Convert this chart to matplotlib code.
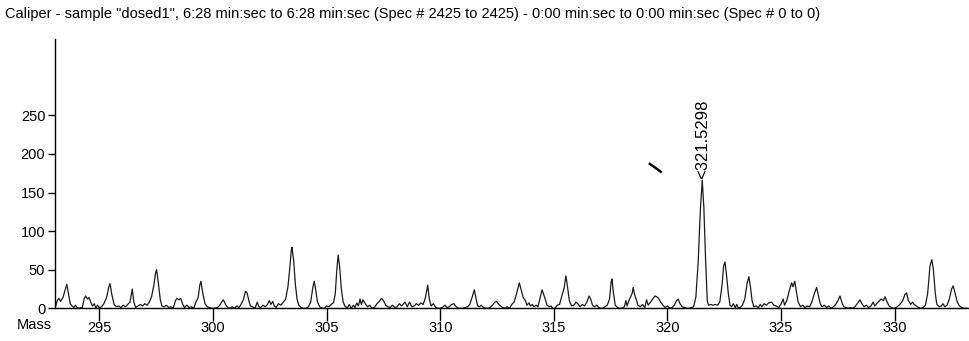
import numpy as np
import matplotlib
matplotlib.use('Agg')
import matplotlib.pyplot as plt

plt.rcParams['font.family'] = ['Liberation Sans', 'DejaVu Sans']

title = ('Caliper - sample "dosed1", 6:28 min:sec to 6:28 min:sec (Spec # 2425 to 2425)'
         ' - 0:00 min:sec to 0:00 min:sec (Spec # 0 to 0)')

# profile vertices, one line of mass per line of intensity
mass = [
    293.07, 293.15, 293.22, 293.3, 293.4, 293.5, 293.57, 293.65, 293.72, 293.8, 293.88, 293.95, 294.02, 294.1,
    294.25, 294.33, 294.4, 294.48, 294.55, 294.62, 294.7, 294.78, 294.85, 294.92, 295.0, 295.1, 295.2,
    295.32, 295.42, 295.47, 295.55, 295.65, 295.75, 295.85, 295.95, 296.05, 296.15, 296.25, 296.35,
    296.45, 296.52, 296.6, 296.7, 296.8, 296.9, 297.0, 297.1, 297.2, 297.3, 297.4, 297.47, 297.52,
    297.6, 297.68, 297.75, 297.85, 297.95, 298.05, 298.15, 298.25, 298.35, 298.42, 298.5, 298.58,
    298.66, 298.75, 298.85, 298.95, 299.05, 299.15, 299.25, 299.35, 299.42, 299.47, 299.55, 299.65,
    299.75, 299.85, 299.95, 300.05, 300.2, 300.3, 300.4, 300.46, 300.55, 300.65, 300.75, 300.85,
    300.95, 301.05, 301.15, 301.25, 301.35, 301.43, 301.5, 301.58, 301.65, 301.75, 301.85, 301.95,
    302.02, 302.1, 302.2, 302.3, 302.4, 302.48, 302.55, 302.63, 302.7, 302.78, 302.88, 302.98,
    303.1, 303.2, 303.3, 303.38, 303.45, 303.48, 303.55, 303.63, 303.7, 303.78, 303.88, 303.98,
    304.1, 304.2, 304.3, 304.4, 304.46, 304.53, 304.6, 304.7, 304.8, 304.9, 305.0, 305.1, 305.2,
    305.3, 305.38, 305.45, 305.51, 305.57, 305.65, 305.73, 305.82, 305.92, 306.0, 306.08, 306.18,
    306.25, 306.33, 306.4, 306.47, 306.53, 306.6, 306.7, 306.8, 306.9, 307.0, 307.1, 307.22, 307.32,
    307.42, 307.5, 307.6, 307.7, 307.8, 307.9, 308.0, 308.1, 308.2, 308.3, 308.45, 308.55, 308.65,
    308.75, 308.85, 308.95, 309.05, 309.15, 309.25, 309.35, 309.45, 309.52, 309.6, 309.7, 309.8,
    309.9, 310.0, 310.1, 310.2, 310.3, 310.4, 310.5, 310.6, 310.7, 310.8, 311.0, 311.1, 311.2, 311.3,
    311.4, 311.5, 311.58, 311.65, 311.72, 311.8, 311.9, 312.0, 312.1, 312.2, 312.3, 312.4, 312.48,
    312.55, 312.65, 312.75, 312.85, 312.95, 313.05, 313.15, 313.25, 313.35, 313.48, 313.55, 313.65,
    313.75, 313.82, 313.9, 313.97, 314.05, 314.12, 314.22, 314.3, 314.4, 314.48, 314.55, 314.62,
    314.7, 314.8, 314.88, 314.95, 315.05, 315.15, 315.25, 315.35, 315.45, 315.53, 315.6, 315.68,
    315.78, 315.88, 315.97, 316.05, 316.15, 316.25, 316.35, 316.45, 316.55, 316.62, 316.7, 316.78,
    316.88, 316.98, 317.05, 317.15, 317.25, 317.35, 317.45, 317.52, 317.56, 317.62, 317.7, 317.8,
    317.9, 318.0, 318.1, 318.17, 318.22, 318.3, 318.38, 318.45, 318.49, 318.55, 318.62, 318.7, 318.8,
    318.9, 319.0, 319.08, 319.15, 319.25, 319.35, 319.45, 319.52, 319.6, 319.7, 319.8, 319.9, 320.0,
    320.1, 320.2, 320.3, 320.4, 320.47, 320.55, 320.65, 320.75, 320.85, 320.95, 321.05, 321.15,
    321.25, 321.35, 321.45, 321.53, 321.6, 321.68, 321.75, 321.8, 321.9, 322.0, 322.1, 322.2,
    322.3, 322.4, 322.47, 322.53, 322.6, 322.68, 322.75, 322.82, 322.9, 322.98, 323.05, 323.12,
    323.2, 323.3, 323.4, 323.5, 323.58, 323.65, 323.72, 323.8, 323.9, 324.0, 324.08, 324.15,
    324.25, 324.35, 324.45, 324.58, 324.68, 324.78, 324.9, 325.0, 325.09, 325.15, 325.25, 325.35,
    325.46, 325.52, 325.6, 325.68, 325.75, 325.85, 325.95, 326.05, 326.15, 326.25, 326.35, 326.45,
    326.56, 326.63, 326.72, 326.8, 326.9, 327.0, 327.1, 327.2, 327.3, 327.4, 327.5, 327.59,
    327.67, 327.75, 327.85, 327.95, 328.05, 328.15, 328.25, 328.35, 328.47, 328.55, 328.65, 328.75,
    328.85, 328.95, 329.05, 329.12, 329.2, 329.3, 329.4, 329.5, 329.57, 329.65, 329.75, 329.85,
    329.95, 330.05, 330.15, 330.25, 330.35, 330.45, 330.52, 330.6, 330.7, 330.78, 330.85, 330.95,
    331.05, 331.15, 331.25, 331.35, 331.45, 331.55, 331.63, 331.7, 331.78, 331.85, 331.95, 332.05,
    332.12, 332.2, 332.3, 332.4, 332.5, 332.57, 332.65, 332.75, 332.85, 332.95, 333.05, 333.2,
]
intensity = [
    2, 10, 13, 9, 14, 24, 31, 18, 6, 3, 1, 4, 1, 0,
    1, 12, 16, 12, 14, 8, 3, 6, 0, 4, 1, 2, 6,
    14, 28, 32, 18, 5, 2, 3, 1, 4, 2, 5, 8,
    25, 8, 1, 3, 5, 3, 6, 4, 8, 15, 30, 45, 50,
    32, 12, 3, 2, 4, 1, 2, 0, 10, 13, 11, 13,
    6, 1, 4, 1, 2, 0, 8, 14, 30, 35, 20, 6,
    2, 1, 0, 0, 1, 4, 9, 11, 5, 1, 0, 2,
    0, 3, 1, 6, 12, 22, 20, 10, 3, 2, 0, 8,
    2, 1, 4, 2, 5, 10, 5, 9, 3, 1, 6, 4,
    8, 12, 28, 52, 76, 79, 62, 30, 12, 4, 1, 0,
    0, 2, 8, 28, 35, 22, 8, 2, 0, 0, 3, 2, 5,
    7, 18, 50, 69, 55, 25, 8, 2, 1, 5, 0, 4,
    1, 7, 3, 12, 5, 11, 6, 2, 4, 0, 1, 6, 9,
    13, 10, 4, 2, 1, 4, 1, 2, 6, 3, 8, 2, 8,
    2, 3, 6, 4, 7, 5, 14, 30, 12, 3, 6, 1,
    0, 0, 1, 4, 1, 2, 5, 6, 2, 0, 0, 1, 2, 5,
    14, 24, 12, 3, 2, 4, 1, 0, 0, 1, 4, 8, 9,
    6, 3, 1, 0, 2, 0, 5, 8, 18, 33, 25, 14,
    10, 4, 7, 3, 5, 2, 4, 2, 14, 24, 18, 12,
    4, 2, 3, 0, 0, 4, 5, 16, 26, 42, 28, 10,
    3, 4, 8, 6, 2, 5, 3, 8, 16, 12, 4, 2,
    4, 1, 0, 0, 2, 4, 12, 34, 38, 20, 4, 1,
    0, 0, 2, 10, 3, 10, 15, 20, 27, 18, 12, 4, 2,
    5, 1, 11, 4, 8, 12, 16, 15, 13, 8, 4, 1, 3,
    0, 1, 4, 10, 12, 6, 2, 1, 0, 0, 1, 2,
    15, 60, 130, 166, 130, 60, 10, 4, 5, 4, 5, 4,
    8, 30, 55, 60, 42, 18, 4, 2, 6, 1, 5, 0,
    1, 4, 12, 32, 41, 28, 10, 2, 3, 1, 5, 2,
    6, 4, 7, 8, 4, 3, 1, 6, 12, 4, 10, 22,
    33, 28, 35, 20, 8, 2, 4, 1, 3, 2, 8, 18,
    27, 18, 6, 2, 4, 1, 3, 0, 2, 5, 10, 16,
    8, 2, 1, 0, 1, 0, 2, 6, 11, 6, 2, 4,
    1, 3, 8, 3, 6, 9, 12, 10, 15, 9, 3, 1,
    0, 1, 3, 6, 10, 18, 20, 10, 5, 8, 5, 3,
    1, 0, 1, 4, 20, 55, 63, 50, 20, 5, 2, 3,
    6, 2, 4, 12, 25, 29, 20, 8, 3, 1, 0, 0,
]
assert len(mass) == len(intensity)

x_ticks = [295, 300, 305, 310, 315, 320, 325, 330]
y_ticks = [0, 50, 100, 150, 200, 250]

peak_mass = 321.5298
peak_height = 166

# small stray stroke left of the main peak
stroke_mass = [319.18, 319.75]
stroke_int = [188, 176]

fig = plt.figure(figsize=(9.7, 3.41), dpi=100)
ax = fig.add_axes([0.0567, 0.0959, 0.9433, 0.79])

ax.plot(mass, intensity, color='#1a1a1a', lw=0.9)
ax.plot(stroke_mass, stroke_int, color='black', lw=1.8, solid_capstyle='butt')

ax.set_xlim(293.05, 333.31)
ax.set_ylim(0, 349)

for s in ['top', 'right']:
    ax.spines[s].set_visible(False)
for s in ['left', 'bottom']:
    ax.spines[s].set_color('black')
    ax.spines[s].set_linewidth(1.0)

ax.set_xticks(x_ticks)
ax.set_yticks(y_ticks)
ax.tick_params(axis='x', direction='out', length=9, width=1, labelsize=10.5, pad=0, colors='black')
ax.tick_params(axis='y', direction='out', length=5, width=1, labelsize=10.5, pad=2, colors='black')

# "Mass" sits on the same line as the x tick labels, left of the axis
ax.text(-0.003, -0.036, 'Mass', transform=ax.transAxes, ha='right', va='top', fontsize=10.5)

ax.annotate('<' + f'{peak_mass:.4f}', xy=(peak_mass, peak_height), xytext=(0, 1),
            textcoords='offset points', rotation=90, ha='center', va='bottom', fontsize=12)

fig.text(0.005, 0.96, title, ha='left', va='center', fontsize=10.5)

fig.savefig('out.png', dpi=100)
